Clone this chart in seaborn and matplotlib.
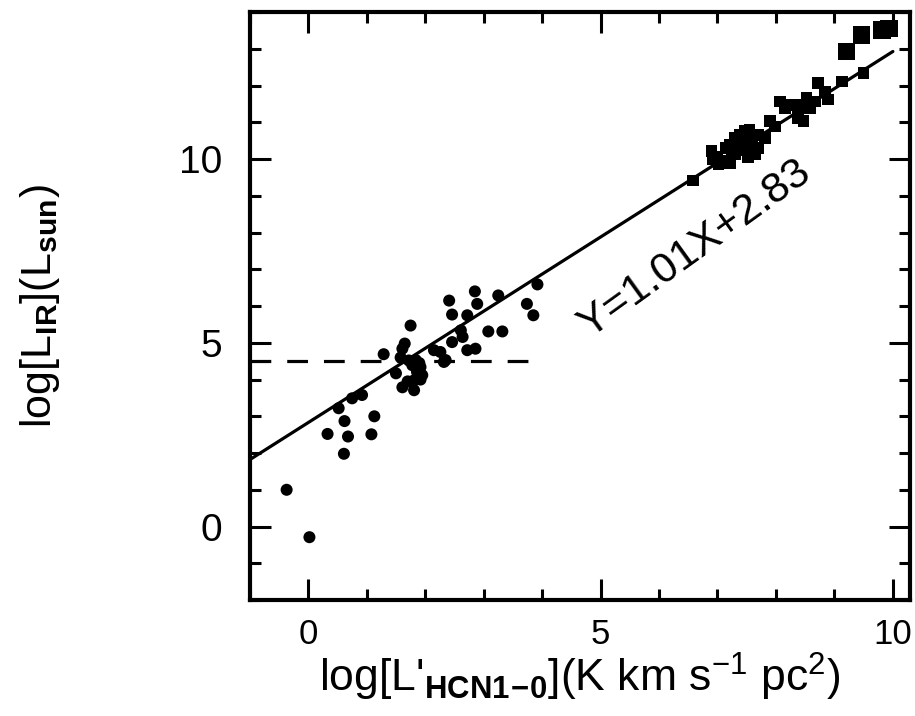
import matplotlib
matplotlib.use("Agg")
import matplotlib.pyplot as plt
from matplotlib.ticker import MultipleLocator
import numpy as np
import pandas as pd
import seaborn as sns

# galactic dense cores (circles)
core_x = [-0.37, 0.02, 0.33, 0.61, 0.68, 0.62, 0.52, 0.75, 0.92, 1.08, 1.13,
          1.29, 1.50, 1.61, 1.61, 1.65, 1.75, 1.81, 1.81, 1.86, 1.78, 1.92,
          1.84, 1.95, 2.15, 2.26, 2.32, 2.41, 2.46, 2.46, 2.61, 2.64, 2.72,
          2.72, 2.86, 2.85, 2.89, 3.08, 3.32, 3.25, 3.74, 3.85, 3.92,
          1.58, 1.72, 1.90, 1.70, 1.92, 2.35]
core_y = [1.00, -0.29, 2.52, 1.98, 2.45, 2.87, 3.22, 3.49, 3.58, 2.51, 3.00,
          4.69, 4.17, 3.79, 4.84, 4.98, 5.47, 3.71, 3.98, 4.21, 4.39, 4.34,
          4.53, 4.12, 4.80, 4.75, 4.48, 6.15, 5.77, 5.02, 5.34, 5.16, 5.75,
          4.80, 4.84, 6.40, 6.06, 5.31, 5.31, 6.29, 6.06, 5.75, 6.59,
          4.60, 4.52, 4.45, 3.95, 4.00, 4.53]

# galaxies (small squares)
gal_x = [6.58, 6.90, 6.92, 7.12, 7.21, 7.30, 7.38, 7.30, 7.47, 7.55, 7.41,
         7.58, 7.64, 7.52, 7.21, 7.69, 7.81, 7.90, 7.98, 8.07, 8.15, 8.27,
         8.38, 8.38, 8.47, 8.44, 8.52, 8.58, 8.67, 8.72, 8.84, 8.89, 9.13, 9.50,
         7.25, 7.35, 7.45, 7.50, 7.60, 7.00, 7.15, 7.70, 7.02]
gal_y = [9.42, 10.22, 9.99, 9.95, 10.40, 10.58, 10.67, 10.13, 10.76, 10.80, 10.31,
         10.40, 10.13, 10.04, 9.90, 10.31, 10.58, 11.03, 10.89, 11.57, 11.39, 11.48,
         11.30, 11.12, 11.03, 11.48, 11.66, 11.39, 11.57, 12.07, 11.84, 11.62, 12.11, 12.34,
         10.20, 10.45, 10.55, 10.25, 10.60, 10.05, 10.30, 10.65, 9.86]

# high-z / ULIRGs (large squares)
hz_x = [9.21, 9.46, 9.81, 9.93]
hz_y = [12.93, 13.38, 13.51, 13.55]

slope, intercept = 1.01, 2.83
fit_x = [-1.0, 10.0]
dash_x = [-1.0, 4.0]
dash_y = [4.5, 4.5]

sns.set_theme(style="ticks", rc={"text.color": "black", "axes.labelcolor": "black",
                                 "xtick.color": "black", "ytick.color": "black"})
plt.rcParams["font.family"] = ["Liberation Sans", "DejaVu Sans"]
plt.rcParams["mathtext.fontset"] = "custom"
plt.rcParams["mathtext.rm"] = "Liberation Sans"
plt.rcParams["mathtext.it"] = "Liberation Sans"
plt.rcParams["mathtext.bf"] = "Liberation Sans:bold"

fig = plt.figure(figsize=(9.15, 7.16), dpi=100)
ax = fig.add_axes([0.273, 0.162, 0.722, 0.821])

fit = pd.DataFrame({"x": fit_x, "y": [slope * v + intercept for v in fit_x]})
sns.lineplot(data=fit, x="x", y="y", color="black", lw=2.3, ax=ax)
sns.lineplot(x=dash_x, y=dash_y, color="black", lw=2.3, ax=ax,
             linestyle=(0, (6.5, 5)))

sns.scatterplot(x=core_x, y=core_y, marker="o", s=75, color="black",
                edgecolor="none", ax=ax)
sns.scatterplot(x=gal_x, y=gal_y, marker="s", s=70, color="black",
                edgecolor="none", ax=ax)
sns.scatterplot(x=hz_x, y=hz_y, marker="s", s=160, color="black",
                edgecolor="none", ax=ax)

ax.text(6.62, 7.56, "Y=1.01X+2.83", rotation=35.8, fontsize=31,
        ha="center", va="center", rotation_mode="anchor", color="black")

ax.set_xlim(-1, 10.3)
ax.set_ylim(-2, 14)
ax.xaxis.set_major_locator(MultipleLocator(5))
ax.xaxis.set_minor_locator(MultipleLocator(1))
ax.yaxis.set_major_locator(MultipleLocator(5))
ax.yaxis.set_minor_locator(MultipleLocator(1))
ax.tick_params(which="both", direction="in", top=True, right=True,
               color="black", width=2.2)
ax.tick_params(which="major", length=15)
ax.tick_params(which="minor", length=8)
ax.tick_params(axis="x", labelsize=25, pad=13)
ax.tick_params(axis="y", labelsize=28, pad=20)
for sp in ax.spines.values():
    sp.set_linewidth(3)
    sp.set_color("black")

ax.set_xlabel(r"log[L'$_{\mathbf{HCN1\!-\!0}}$](K km s$^{-1}$ pc$^{2}$)",
              fontsize=32, labelpad=0)
ax.set_ylabel(r"log[L$_{\mathbf{IR}}$](L$_{\mathbf{sun}}$)", fontsize=31)
ax.yaxis.set_label_coords(-0.285, 0.5)

fig.savefig("out.png", dpi=100)
